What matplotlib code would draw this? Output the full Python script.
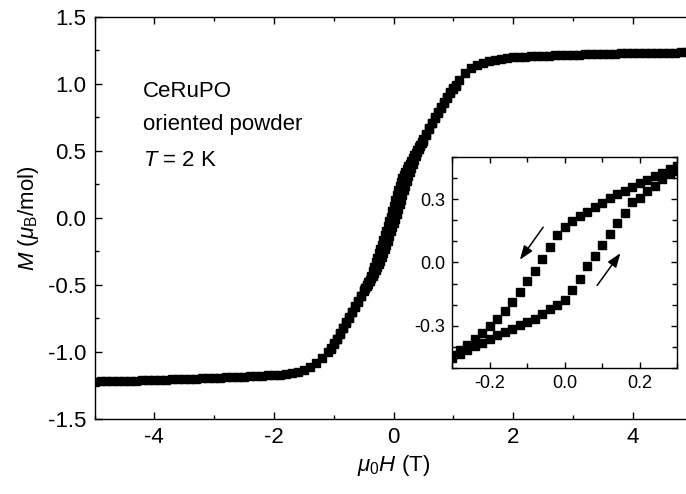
import matplotlib
matplotlib.use("Agg")
import matplotlib.pyplot as plt
from matplotlib.ticker import MultipleLocator

plt.rcParams['font.family'] = ['Liberation Sans', 'DejaVu Sans']
plt.rcParams['mathtext.fontset'] = 'custom'
plt.rcParams['mathtext.rm'] = 'Liberation Sans'
plt.rcParams['mathtext.it'] = 'Liberation Sans:italic'
plt.rcParams['axes.unicode_minus'] = False

# high-field part, same for both sweep directions
h_pos_sat = [1.1, 1.2, 1.3, 1.4, 1.5, 1.6, 1.7, 1.8, 1.9, 2.0,
             2.1, 2.2, 2.3, 2.4, 2.5, 2.6, 2.7, 2.8, 2.9, 3.0,
             3.1, 3.2, 3.3, 3.4, 3.5, 3.6, 3.7, 3.8, 3.9, 4.0,
             4.1, 4.2, 4.3, 4.4, 4.5, 4.6, 4.7, 4.8, 4.9, 5.0]
m_pos_sat = [1.03, 1.08, 1.12, 1.143, 1.158, 1.170, 1.180, 1.187, 1.192, 1.196,
             1.200, 1.203, 1.205, 1.207, 1.209, 1.210, 1.212, 1.213, 1.215, 1.216,
             1.217, 1.219, 1.220, 1.221, 1.222, 1.224, 1.225, 1.226, 1.227, 1.228,
             1.229, 1.229, 1.230, 1.231, 1.232, 1.232, 1.233, 1.234, 1.234, 1.235]
h_neg_sat = [-1.1, -1.2, -1.3, -1.4, -1.5, -1.6, -1.7, -1.8, -1.9, -2.0,
             -2.1, -2.2, -2.3, -2.4, -2.5, -2.6, -2.7, -2.8, -2.9, -3.0,
             -3.1, -3.2, -3.3, -3.4, -3.5, -3.6, -3.7, -3.8, -3.9, -4.0,
             -4.1, -4.2, -4.3, -4.4, -4.5, -4.6, -4.7, -4.8, -4.9, -5.0]
m_neg_sat = [-1.00, -1.047, -1.085, -1.11, -1.135, -1.148, -1.158, -1.164, -1.169, -1.172,
             -1.175, -1.178, -1.180, -1.182, -1.184, -1.186, -1.188, -1.190, -1.192, -1.194,
             -1.196, -1.197, -1.199, -1.200, -1.202, -1.203, -1.205, -1.206, -1.208, -1.209,
             -1.210, -1.212, -1.213, -1.214, -1.215, -1.217, -1.218, -1.219, -1.220, -1.222]

# low-field part of the main loop
h_mid = [1.05, 1.00, 0.95, 0.90, 0.85, 0.80, 0.75, 0.70, 0.65, 0.60, 0.55,
         0.50, 0.475, 0.45, 0.425, 0.40, 0.375, 0.35, 0.325, 0.30, 0.275,
         0.25, 0.225, 0.20, 0.175, 0.15, 0.125, 0.10, 0.075, 0.05, 0.025, 0.00,
         -0.025, -0.05, -0.075, -0.10, -0.125, -0.15, -0.175, -0.20, -0.225,
         -0.25, -0.275, -0.30, -0.325, -0.35, -0.375, -0.40, -0.425, -0.45, -0.475,
         -0.50, -0.55, -0.60, -0.65, -0.70, -0.75, -0.80, -0.85, -0.90, -0.95, -1.00, -1.05]
m_mid_down = [0.99, 0.965, 0.935, 0.90, 0.865, 0.825, 0.79, 0.75, 0.71, 0.67, 0.625,
              0.585, 0.565, 0.545, 0.525, 0.505, 0.485, 0.465, 0.445, 0.425, 0.405,
              0.385, 0.365, 0.345, 0.32, 0.295, 0.27, 0.24, 0.205, 0.17, 0.13, 0.09,
              0.05, 0.01, -0.025, -0.06, -0.095, -0.13, -0.165, -0.20, -0.23,
              -0.265, -0.30, -0.33, -0.365, -0.40, -0.43, -0.46, -0.48, -0.50, -0.52,
              -0.54, -0.58, -0.62, -0.66, -0.70, -0.74, -0.78, -0.82, -0.86, -0.90, -0.935, -0.97]
m_mid_up = [0.985, 0.96, 0.93, 0.895, 0.86, 0.82, 0.785, 0.745, 0.705, 0.665, 0.62,
            0.575, 0.555, 0.535, 0.515, 0.49, 0.46, 0.43, 0.40, 0.37, 0.34,
            0.31, 0.275, 0.24, 0.205, 0.17, 0.135, 0.10, 0.065, 0.03, -0.005, -0.04,
            -0.07, -0.10, -0.135, -0.17, -0.20, -0.23, -0.26, -0.29, -0.32,
            -0.345, -0.37, -0.39, -0.41, -0.43, -0.45, -0.47, -0.49, -0.505, -0.525,
            -0.545, -0.585, -0.625, -0.665, -0.705, -0.745, -0.785, -0.825, -0.865, -0.905, -0.94, -0.975]

# inset loop
h_in = [0.30, 0.28, 0.26, 0.24, 0.22, 0.20, 0.18, 0.16, 0.14, 0.12, 0.10,
        0.08, 0.06, 0.04, 0.02, 0.00, -0.02, -0.04, -0.06, -0.08, -0.10,
        -0.12, -0.14, -0.16, -0.18, -0.20, -0.22, -0.24, -0.26, -0.28, -0.30]
m_in_down = [0.458, 0.442, 0.424, 0.408, 0.392, 0.376, 0.358, 0.340, 0.324, 0.304, 0.284,
             0.263, 0.240, 0.220, 0.198, 0.170, 0.132, 0.074, 0.017, -0.040, -0.090,
             -0.140, -0.186, -0.230, -0.270, -0.302, -0.336, -0.365, -0.392, -0.416, -0.440]
m_in_up = [0.434, 0.419, 0.395, 0.364, 0.337, 0.308, 0.285, 0.233, 0.186, 0.135, 0.083,
           0.033, -0.019, -0.077, -0.132, -0.176, -0.203, -0.219, -0.242, -0.266, -0.282,
           -0.297, -0.313, -0.329, -0.345, -0.361, -0.381, -0.397, -0.413, -0.436, -0.455]

fig = plt.figure(figsize=(6.86, 4.94), dpi=100)
ax = fig.add_axes([0.1378, 0.1518, 0.8717, 0.8144])

sty = dict(ls='none', marker='s', ms=5.2, color='black', mec='black')
ax.plot(h_pos_sat, m_pos_sat, **sty)
ax.plot(h_neg_sat, m_neg_sat, **sty)
ax.plot(h_mid, m_mid_down, **sty)
ax.plot(h_mid, m_mid_up, **sty)

ax.set_xlim(-5, 5)
ax.set_ylim(-1.5, 1.5)
ax.xaxis.set_major_locator(MultipleLocator(2))
ax.xaxis.set_minor_locator(MultipleLocator(1))
ax.yaxis.set_major_locator(MultipleLocator(0.5))
ax.yaxis.set_minor_locator(MultipleLocator(0.25))
ax.tick_params(which='both', direction='in', top=True, right=True, width=1)
ax.tick_params(which='major', length=5, labelsize=16, pad=6)
ax.tick_params(which='minor', length=3)
for s in ax.spines.values():
    s.set_linewidth(1)

ax.set_xlabel(r'$\mu_\mathrm{0}H$ (T)', fontsize=16, labelpad=3)
ax.set_ylabel(r'$M$ ($\mu_\mathrm{B}$/mol)', fontsize=16, labelpad=5)

ax.text(-4.19, 0.903, 'CeRuPO', fontsize=16, va='baseline')
ax.text(-4.19, 0.657, 'oriented powder', fontsize=16, va='baseline')
ax.text(-4.19, 0.388, r'$T$ = 2 K', fontsize=16, va='baseline')

# inset
ins = fig.add_axes([0.6589, 0.2551, 0.328, 0.4271])
ins.plot(h_in, m_in_down, **sty)
ins.plot(h_in, m_in_up, **sty)
ins.set_xlim(-0.3, 0.3)
ins.set_ylim(-0.5, 0.5)
ins.xaxis.set_major_locator(MultipleLocator(0.2))
ins.xaxis.set_minor_locator(MultipleLocator(0.1))
ins.yaxis.set_major_locator(MultipleLocator(0.3))
ins.yaxis.set_minor_locator(MultipleLocator(0.1))
ins.tick_params(which='both', direction='in', top=True, right=True, width=1)
ins.tick_params(which='major', length=4.5, labelsize=13, pad=5)
ins.tick_params(which='minor', length=3.5)
for s in ins.spines.values():
    s.set_linewidth(1)

arrow = dict(arrowstyle='-|>,head_length=0.6,head_width=0.22', color='black',
             lw=1.1, mutation_scale=14, shrinkA=0, shrinkB=0)
ins.annotate('', xy=(-0.119, 0.013), xytext=(-0.057, 0.167), arrowprops=arrow)
ins.annotate('', xy=(0.149, 0.044), xytext=(0.087, -0.109), arrowprops=arrow)

fig.savefig('out.png', dpi=100)
